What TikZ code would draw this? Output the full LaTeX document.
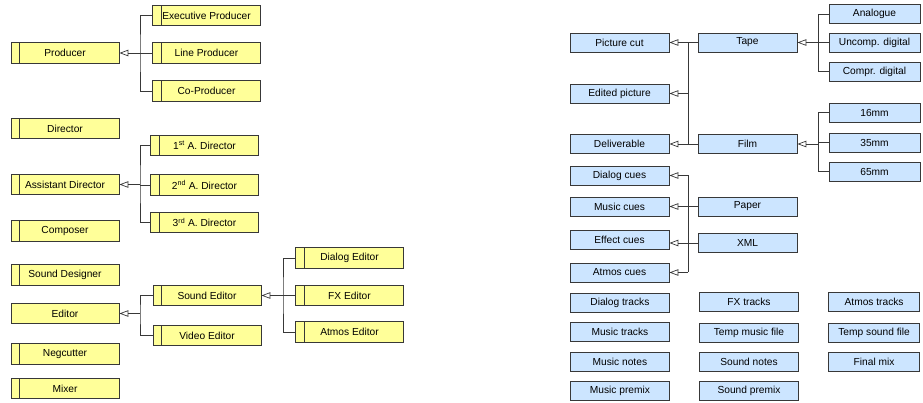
\documentclass[tikz,border=0pt]{standalone}
\usepackage{fontspec}
\setmainfont{Liberation Sans}
\usepackage{tikz}
\usetikzlibrary{matrix,arrows.meta}
\definecolor{yfill}{HTML}{FFFF99}
\definecolor{bfill}{HTML}{CCE5FF}
\definecolor{edge}{HTML}{383838}

\begin{document}
\begin{tikzpicture}[x=1pt,y=-1pt,
  font=\fontsize{10.2}{12}\selectfont,
  box/.style={draw=edge, line width=0.8pt, inner sep=0pt, minimum height=20.5pt},
  role/.style={box, fill=yfill, minimum width=108pt},
  rolebar/.style={role, path picture={\draw[edge,line width=0.8pt]
    ([xshift=8.5pt]path picture bounding box.north west) -- ([xshift=8.5pt]path picture bounding box.south west);}},
  item/.style={box, fill=bfill, minimum width=99pt, minimum height=19pt},
  subitem/.style={item, minimum width=91pt},
  tie/.style={draw=edge, line width=0.7pt},
  gen/.style={tie, -{Triangle[open,length=9pt,width=6.5pt]}}]
 \useasboundingbox (0,0) rectangle (923,403);

 \node[rolebar] (producer) at (65,53) {Producer};
 \node[rolebar] (exec) at (206.5,15.5) {Executive Producer};
 \node[rolebar] (linep) at (206.5,53) {Line Producer};
 \node[rolebar] (cop) at (206.5,91) {Co-Producer};
 \node[rolebar] (director) at (65,128.5) {Director};
 \node[rolebar] (asst) at (65,184.5) {Assistant Director};
 \node[rolebar] (ad1) at (204.5,145.5) {1\textsuperscript{st} A. Director};
 \node[rolebar] (ad2) at (204.5,185) {2\textsuperscript{nd} A. Director};
 \node[rolebar] (ad3) at (204.5,222.5) {3\textsuperscript{rd} A. Director};
 \node[rolebar] (composer) at (65,231) {Composer};
 \node[rolebar] (sdesigner) at (65,275) {Sound Designer};
 \node[role] (editor) at (65,313.5) {Editor};
 \node[rolebar] (negcutter) at (65,354) {Negcutter};
 \node[rolebar] (mixer) at (65,388.5) {Mixer};
 \node[rolebar] (sedit) at (207,295.5) {Sound Editor};
 \node[rolebar] (vedit) at (207,335.5) {Video Editor};
 \node[rolebar] (dedit) at (349.5,258) {Dialog Editor};
 \node[rolebar] (fxedit) at (349.5,295.5) {FX Editor};
 \node[rolebar] (aedit) at (349.5,332) {Atmos Editor};

 \coordinate (pbus) at (140,53);
 \coordinate (abus) at (140,184.5);
 \coordinate (ebus) at (140,313.5);
 \coordinate (sbus) at (283,295.5);
 \path[tie] (exec.west) -| (pbus) |- (cop.west) (linep.west) -- (pbus)
  (ad1.west) -| (abus) |- (ad3.west) (ad2.west) -- (ad2.west -| abus)
  (sedit.west) -| (ebus) |- (vedit.west)
  (dedit.west) -| (sbus) |- (aedit.west) (fxedit.west) -- (sbus);
 \path[gen] (pbus) -- (producer.east);
 \path[gen] (abus) -- (asst.east);
 \path[gen] (ebus) -- (editor.east);
 \path[gen] (sbus) -- (sedit.east);

 \node[item] (piccut) at (619.5,42.5) {Picture cut};
 \node[item] (edpic) at (619.5,93.5) {Edited picture};
 \node[item] (deliv) at (619.5,144) {Deliverable};
 \node[item] (tape) at (747.5,42.5) {Tape};
 \node[item] (film) at (747.5,144) {Film};
 \node[subitem] (analogue) at (874.5,14) {Analogue};
 \node[subitem] (uncomp) at (874.5,42.5) {Uncomp. digital};
 \node[subitem] (compr) at (874.5,71.5) {Compr. digital};
 \node[subitem] (mm16) at (874.5,112.5) {16mm};
 \node[subitem] (mm35) at (874.5,142.5) {35mm};
 \node[subitem] (mm65) at (874.5,171.5) {65mm};
 \node[item] (dcues) at (619.5,175.5) {Dialog cues};
 \node[item] (mcues) at (619.5,206.5) {Music cues};
 \node[item] (ecues) at (619.5,240) {Effect cues};
 \node[item] (acues) at (619.5,272.5) {Atmos cues};
 \node[item] (paper) at (747.5,206.5) {Paper};
 \node[item] (xml) at (747.5,243) {XML};

 \coordinate (tbus) at (818,42.5);
 \coordinate (fbus) at (818,144);
 \coordinate (pcbus) at (688,93.5);
 \coordinate (cbus) at (688,206.5);
 \path[tie] (analogue.west) -| (tbus) |- (compr.west) (uncomp.west) -- (tbus)
  (mm16.west) -| (fbus) |- (mm65.west) (mm35.west) -- (mm35.west -| fbus)
  (tape.west) -| (pcbus) |- (film.west)
  (cbus |- dcues) -- (cbus |- acues) (paper.west) -- (cbus) (xml.west) -- (xml -| cbus);
 \path[gen] (tbus) -- (tape.east);
 \path[gen] (fbus) -- (film.east);
 \path[gen] (pcbus |- piccut) -- (piccut.east);
 \path[gen] (pcbus) -- (edpic.east);
 \path[gen] (pcbus |- deliv) -- (deliv.east);
 \path[gen] (cbus |- dcues) -- (dcues.east);
 \path[gen] (cbus) -- (mcues.east);
 \path[gen] (xml -| cbus) -- (xml -| ecues.east);
 \path[gen] (cbus |- acues) -- (acues.east);

 \matrix (tracks) [matrix of nodes, nodes={item}, inner sep=0pt, outer sep=0pt,
   row sep=9.3pt, column sep=29.3pt,
   column 3/.style={nodes={subitem}}, anchor=north west] at (570,292)
  {
    Dialog tracks & FX tracks & Atmos tracks \\
    Music tracks & Temp music file & Temp sound file \\
    Music notes & Sound notes & Final mix \\
    Music premix & Sound premix & \\
  };
\end{tikzpicture}
\end{document}
